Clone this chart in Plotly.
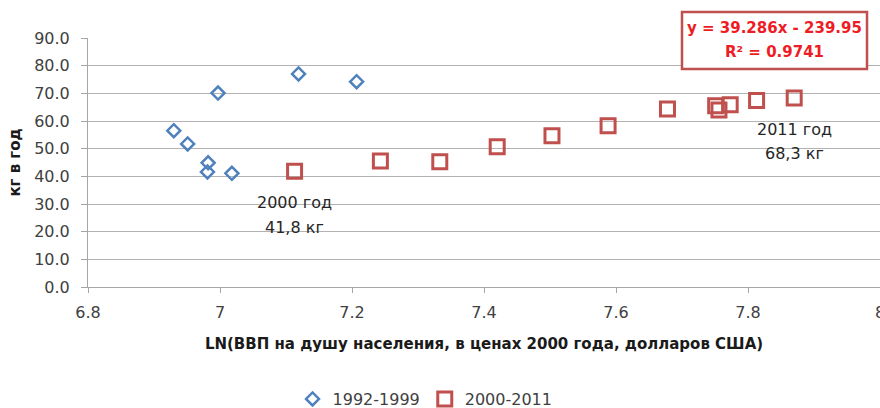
import plotly.graph_objects as go

# LN of GDP per capita (2000 USD) vs consumption, kg per year
x_1992_1999 = [6.930, 6.951, 6.982, 6.981, 7.018, 6.997, 7.119, 7.207]
y_1992_1999 = [56.5, 51.7, 44.9, 41.6, 41.1, 70.1, 77.0, 74.2]

x_2000_2011 = [7.113, 7.243, 7.333, 7.420, 7.503, 7.588, 7.678, 7.751, 7.756, 7.773, 7.813, 7.870]
y_2000_2011 = [41.8, 45.5, 45.3, 50.7, 54.7, 58.3, 64.3, 65.5, 64.0, 65.9, 67.4, 68.3]

x_ticks = [6.8, 7.0, 7.2, 7.4, 7.6, 7.8, 8.0]
x_tick_text = ["6.8", "7", "7.2", "7.4", "7.6", "7.8", "8"]
y_ticks = [0, 10, 20, 30, 40, 50, 60, 70, 80, 90]

trend_lines = ["y = 39.286x - 239.95", "R² = 0.9741"]

BLUE = "#4f81bd"
RED = "#c0504d"
FONT = "DejaVu Sans"
TXT = "#404040"

fig = go.Figure()
fig.add_trace(go.Scatter(
    x=x_1992_1999, y=y_1992_1999, mode="markers", name="1992-1999",
    marker=dict(symbol="diamond-open", size=10, color=BLUE, line=dict(width=2.5, color=BLUE)),
))
fig.add_trace(go.Scatter(
    x=x_2000_2011, y=y_2000_2011, mode="markers", name="2000-2011",
    marker=dict(symbol="square-open", size=14, color=RED, line=dict(width=3, color=RED)),
))

# Point labels for the first and last year of the second period (one annotation per line)
label_font = dict(family=FONT, size=16, color="#262626")
for idx, year, shifts in [(0, "2000", (-31, -56)), (-1, "2011", (-31, -55))]:
    value = str(y_2000_2011[idx]).replace(".", ",")
    for text, dy in zip([f"{year} год", f"{value} кг"], shifts):
        fig.add_annotation(x=x_2000_2011[idx], y=y_2000_2011[idx], text=text, showarrow=False,
                           xanchor="center", yanchor="middle", yshift=dy, font=label_font)

# Linear trend equation box
fig.add_shape(type="rect", xref="paper", yref="paper", x0=0.75, x1=0.9836, y0=0.8755, y1=1.1044,
              line=dict(color=RED, width=2.5), fillcolor="white", layer="above")
for text, yy in zip(trend_lines, [1.040, 0.944]):
    fig.add_annotation(xref="paper", yref="paper", x=0.867, y=yy, xanchor="center", yanchor="middle",
                       text=f"<b>{text}</b>", showarrow=False,
                       font=dict(family=FONT, size=15, color="#ee1c25"))

fig.update_layout(
    width=880, height=408,
    margin=dict(l=88, r=0, t=38, b=121),
    paper_bgcolor="white", plot_bgcolor="white",
    font=dict(family=FONT, size=16, color=TXT),
    showlegend=True,
    legend=dict(orientation="h", xref="container", yref="container", x=0.483, y=0.022,
                xanchor="center", yanchor="middle",
                font=dict(family=FONT, size=16, color=TXT), itemwidth=30),
    xaxis=dict(range=[6.8, 8.0], tickvals=x_ticks, ticktext=x_tick_text, automargin=False,
               showgrid=False, zeroline=False, showline=True, linecolor="#a6a6a6", linewidth=1,
               ticks="outside", ticklen=5, tickcolor="#a6a6a6",
               ticklabeloverflow="allow", ticklabelstandoff=6,
               tickfont=dict(family=FONT, size=16, color=TXT),
               title=dict(text="<b>LN(ВВП на душу населения, в ценах 2000 года, долларов США)</b>",
                          font=dict(family=FONT, size=15, color="#1a1a1a"), standoff=17)),
    yaxis=dict(range=[0, 90], tickvals=y_ticks, tickformat=".1f", automargin=False,
               showgrid=True, gridcolor="#b3b3b3", gridwidth=1, zeroline=False,
               showline=True, linecolor="#a6a6a6", linewidth=1,
               ticks="outside", ticklen=6, tickcolor="#a6a6a6", ticklabelstandoff=8,
               tickfont=dict(family=FONT, size=16, color=TXT),
               title=dict(text="<b>кг в год</b>", font=dict(family=FONT, size=15, color="#1a1a1a"), standoff=9)),
)

fig.write_html("out.html")
